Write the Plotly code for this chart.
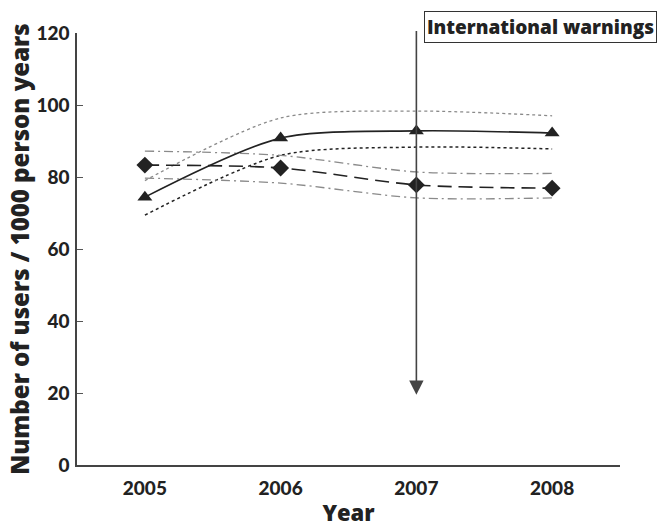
import plotly.graph_objects as go

years = [2005, 2006, 2007, 2008]
tri_mean = [74.4, 90.8, 92.8, 92.2]
tri_upper = [79.0, 96.4, 98.3, 97.0]
tri_lower = [69.4, 86.0, 88.3, 87.8]
dia_mean = [83.3, 82.5, 77.8, 76.9]
dia_upper = [87.2, 86.0, 81.4, 81.0]
dia_lower = [79.7, 78.3, 74.2, 74.2]
warning_year = 2007
arrow_top = 121
arrow_bottom = 19.5
yticks = [0, 20, 40, 60, 80, 100, 120]
xticks = [2005, 2006, 2007, 2008]

FONT = "Lato"
TFONT = "Open Sans"
W = 900
fig = go.Figure()

fig.add_trace(go.Scatter(x=years, y=tri_upper, mode="lines", line=dict(color="#8a8a8a", width=1.3, dash="dot", shape="spline", smoothing=0.8)))
fig.add_trace(go.Scatter(x=years, y=tri_lower, mode="lines", line=dict(color="#222", width=1.5, dash="dot", shape="spline", smoothing=0.8)))
fig.add_trace(go.Scatter(x=years, y=dia_upper, mode="lines", line=dict(color="#8a8a8a", width=1.3, dash="9px,4px,2px,4px", shape="spline", smoothing=0.8)))
fig.add_trace(go.Scatter(x=years, y=dia_lower, mode="lines", line=dict(color="#8a8a8a", width=1.3, dash="9px,4px,2px,4px", shape="spline", smoothing=0.8)))
fig.add_trace(go.Scatter(x=years, y=dia_mean, mode="lines+markers", line=dict(color="#222", width=1.6, dash="14px,7px", shape="spline", smoothing=0.8),
                         marker=dict(symbol="diamond", size=13, color="#222")))
fig.add_trace(go.Scatter(x=years, y=tri_mean, mode="lines+markers", line=dict(color="#222", width=1.6, shape="spline", smoothing=0.8),
                         marker=dict(symbol="triangle-up", size=13, color="#222")))

fig.add_annotation(x=warning_year, y=arrow_bottom, ax=warning_year, ay=arrow_top, xref="x", yref="y", axref="x", ayref="y",
                   showarrow=True, arrowhead=2, arrowsize=1.8, arrowwidth=1.6, arrowcolor="#444", text="")
fig.add_annotation(x=0.853, y=1.014, xref="paper", yref="paper", xanchor="center", yanchor="middle",
                   text="International warnings", showarrow=False,
                   font=dict(family=TFONT, size=19, weight=800, color="#222"), bordercolor="#333", borderwidth=1, borderpad=2, bgcolor="white")

fig.update_layout(
    width=666, height=527, showlegend=False,
    paper_bgcolor="white", plot_bgcolor="white",
    margin=dict(l=77, r=46, t=33, b=62),
    font=dict(family=FONT, color="#222"),
    xaxis=dict(range=[2004.5, 2008.5], tickvals=xticks, ticktext=[str(v) for v in xticks], automargin=False,
               showline=True, linecolor="#444", linewidth=1.5, showgrid=False, zeroline=False, ticks="",
               ticklabelstandoff=5,
               tickfont=dict(family=FONT, size=19, weight=W, color="#222"),
               title=dict(text="Year", font=dict(family=TFONT, size=22, weight=800, color="#222"), standoff=10)),
    yaxis=dict(range=[0, 120], tickvals=yticks, showline=True, linecolor="#444", linewidth=1.5, showgrid=False, zeroline=False,
               ticks="inside", ticklen=6, tickcolor="#555", automargin=False, ticklabelstandoff=2,
               tickfont=dict(family=FONT, size=19, weight=W, color="#222"),
               title=dict(text="Number of users / 1000 person years", font=dict(family=TFONT, size=24, weight=800, color="#222"), standoff=0)),
)

fig.write_html("out.html", post_script="document.body.style.margin='0';", config={"displayModeBar": False})
